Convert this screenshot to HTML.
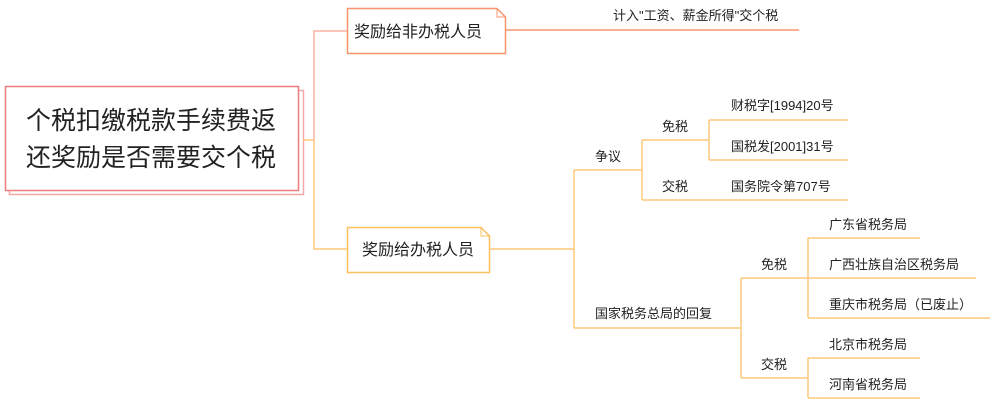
<!DOCTYPE html>
<html><head><meta charset="utf-8"><style>
html,body{margin:0;padding:0;background:#fff;}
svg{display:block;}
text{font-family:"Liberation Sans","Noto Sans CJK SC",sans-serif;fill:#222;}
</style></head><body>
<svg width="992" height="402" viewBox="0 0 992 402" xmlns="http://www.w3.org/2000/svg">
<g fill="none" stroke-width="1.5">
<!-- root -->
<rect x="9.5" y="90.5" width="294" height="104" fill="#fff" stroke="#f4a8a8"/>
<rect x="5.5" y="86.5" width="293" height="104" fill="#fff" stroke="#ee7d7d"/>
<!-- trunk -->
<path d="M303 140 H314" stroke="#fcc97a"/>
<path d="M314 140 V31 H347" stroke="#f8b3a3"/>
<path d="M314 140 V249 H347" stroke="#fcc97a"/>
<!-- top box -->
<path d="M347.5 8.5 H497 L505.5 17 V53.5 H347.5 Z" fill="#fff" stroke="#f8956f"/>
<path d="M497 8.5 V17 H505.5" stroke="#f8956f" stroke-width="1"/>
<path d="M505 30 H799" stroke="#f8956f"/>
<!-- bottom box -->
<path d="M347.5 227.5 H481 L489.5 236 V272.5 H347.5 Z" fill="#fff" stroke="#fbbf5c"/>
<path d="M481 227.5 V236 H489.5" stroke="#fbbf5c" stroke-width="1"/>
<g stroke="#fcc97a">
<path d="M489 249 H574"/>
<path d="M574 170 V328"/>
<path d="M574 170 H642"/>
<path d="M642 140 V200"/>
<path d="M642 140 H709"/>
<path d="M709 120 V160"/>
<path d="M709 120 H848"/>
<path d="M709 160 H848"/>
<path d="M642 200 H848"/>
<path d="M574 328 H741"/>
<path d="M741 278 V378"/>
<path d="M741 278 H808"/>
<path d="M808 238 V318"/>
<path d="M808 238 H920"/>
<path d="M808 278 H976"/>
<path d="M808 318 H990"/>
<path d="M741 378 H808"/>
<path d="M808 358 V398"/>
<path d="M808 358 H920"/>
<path d="M808 398 H920"/>
</g>
</g>
<text x="151" y="129" font-size="25" text-anchor="middle">个税扣缴税款手续费返</text>
<text x="151" y="166" font-size="25" text-anchor="middle">还奖励是否需要交个税</text>
<text x="418" y="37" font-size="16" text-anchor="middle">奖励给非办税人员</text>
<text x="418" y="255" font-size="16" text-anchor="middle">奖励给办税人员</text>
<g font-size="13">
<text x="613" y="20">计入"工资、薪金所得"交个税</text>
<text x="595" y="161">争议</text>
<text x="662" y="131">免税</text>
<text x="662" y="191">交税</text>
<text x="731" y="110">财税字[1994]20号</text>
<text x="731" y="151">国税发[2001]31号</text>
<text x="731" y="191">国务院令第707号</text>
<text x="595" y="318">国家税务总局的回复</text>
<text x="761" y="269">免税</text>
<text x="761" y="369">交税</text>
<text x="829" y="229">广东省税务局</text>
<text x="829" y="269">广西壮族自治区税务局</text>
<text x="829" y="309">重庆市税务局（已废止）</text>
<text x="829" y="349">北京市税务局</text>
<text x="829" y="389">河南省税务局</text>
</g>
</svg>
</body></html>
